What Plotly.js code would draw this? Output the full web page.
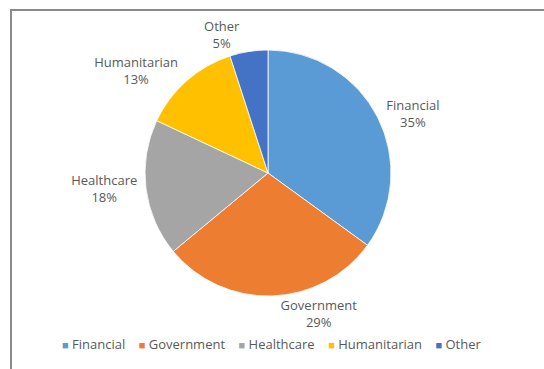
<!DOCTYPE html>
<html>
<head>
<meta charset="utf-8">
<script src="https://cdn.plot.ly/plotly-3.0.1.min.js"></script>
<style>
html,body{margin:0;padding:0;background:#fff;overflow:hidden;}
#chart{width:544px;height:369px;position:absolute;left:0;top:0;}
#frame{position:absolute;left:10px;top:9px;width:600px;height:400px;border:2px solid #8a8a8a;box-sizing:border-box;pointer-events:none;}
</style>
</head>
<body>
<div id="chart"></div>
<div id="frame"></div>
<script>
const categories = ["Financial", "Government", "Healthcare", "Humanitarian", "Other"];
const shares = [35, 29, 18, 13, 5];
const colors = ["#5B9BD5", "#ED7D31", "#A5A5A5", "#FFC000", "#4472C4"];

const trace = {
  type: "pie",
  labels: categories,
  values: shares,
  sort: false,
  direction: "clockwise",
  rotation: 0,
  marker: {colors: colors, line: {color: "#ffffff", width: 0.8}},
  textposition: "outside",
  texttemplate: "%{label}<br>%{percent:.0%}",
  outsidetextfont: {family: "Open Sans, sans-serif", size: 13, color: "#595959"},
  hoverinfo: "label+percent",
  domain: {x: [145/544, 391/544], y: [1 - 296/369, 1 - 50/369]},
  automargin: false,
  showlegend: false
};

// Compact Excel-style legend built from the category and colour arrays
const gap = "\u00a0\u00a0\u00a0\u00a0";
const legendText = categories.map((c, i) =>
  '<span style="color:' + colors[i] + ';font-size:11px">\u25A0</span>\u00a0' + c
).join(gap);

const layout = {
  width: 544,
  height: 369,
  margin: {l: 0, r: 0, t: 0, b: 0},
  paper_bgcolor: "#ffffff",
  showlegend: false,
  font: {family: "Open Sans, sans-serif", color: "#595959"},
  annotations: [{
    xref: "paper", yref: "paper",
    x: 271/544, y: 1 - 344/369,
    xanchor: "center", yanchor: "middle",
    showarrow: false,
    text: legendText,
    font: {family: "Open Sans, sans-serif", size: 13, color: "#595959"}
  }]
};

Plotly.newPlot("chart", [trace], layout, {displayModeBar: false, staticPlot: true});
</script>
</body>
</html>
